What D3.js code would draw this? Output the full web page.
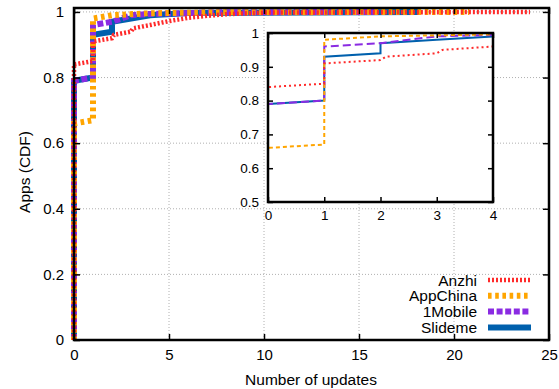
<!DOCTYPE html>
<html>
<head>
<meta charset="utf-8">
<script src="https://cdn.jsdelivr.net/npm/d3@7"></script>
<style>
  body { margin: 0; background: #fff; }
  svg { font-family: "Liberation Sans", Arial, sans-serif; }
  .tick text { fill: #000; }
</style>
</head>
<body>
<svg id="chart" width="559" height="389"></svg>
<script>
// CDF points [updates, fraction of apps]
const anzhi = [[0, 0], [0, 0.84], [1, 0.85], [1, 0.91], [2, 0.92], [2.1, 0.93], [3, 0.94], [3.1, 0.95],
  [4, 0.96], [5, 0.972], [6, 0.982], [7, 0.988], [8, 0.993], [10, 0.998], [24, 1]]
const appChina = [[0, 0], [0, 0.66], [1, 0.67], [1, 0.98], [2, 0.99], [4, 0.996], [8, 0.999], [20.8, 1]]
const oneMobile = [[0, 0], [0, 0.79], [1, 0.80], [1, 0.96], [2, 0.97], [3, 0.99], [4, 0.994], [8, 0.999], [16, 1]]
const slideme = [[0, 0], [0, 0.79], [1, 0.80], [1, 0.93], [2, 0.94], [2, 0.97], [3, 0.98], [4, 0.99],
  [6, 0.997], [18.2, 1]]

const seriesNames = ['Anzhi', 'AppChina', '1Mobile', 'Slideme']
const seriesData = [anzhi, appChina, oneMobile, slideme]

const xTicks = [0, 5, 10, 15, 20, 25]
const yTicks = [0, 0.2, 0.4, 0.6, 0.8, 1]
const insetXTicks = [0, 1, 2, 3, 4]
const insetYTicks = [0.5, 0.6, 0.7, 0.8, 0.9, 1]

const styles = {
  Anzhi:    { color: '#ff2a2a', w: 4.5, dash: '2,2',     iw: 2, idash: '2,3' },
  AppChina: { color: '#ffa500', w: 6,   dash: '3.6,3.6', iw: 2, idash: '4,3' },
  '1Mobile':{ color: '#8a2be2', w: 6,   dash: '6,2.6',   iw: 2, idash: '8,4' },
  Slideme:  { color: '#0060ad', w: 6,   dash: null,      iw: 2, idash: null }
}

const svg = d3.select('#chart')

// main plot
const x = d3.scaleLinear().domain([0, 25]).range([74, 549])
const y = d3.scaleLinear().domain([0, 1.012]).range([340, 8])

const grid = svg.append('g')
grid.selectAll('line.gx').data(xTicks.slice(1, -1)).enter().append('line')
  .attr('x1', d => x(d)).attr('x2', d => x(d)).attr('y1', y(0)).attr('y2', y(1.012))
grid.selectAll('line.gy').data(yTicks.slice(1)).enter().append('line')
  .attr('x1', x(0)).attr('x2', x(25)).attr('y1', d => y(d)).attr('y2', d => y(d))
grid.selectAll('line').attr('stroke', '#b0b0b0').attr('stroke-width', 1).attr('stroke-dasharray', '1,2')

const line = d3.line().x(d => x(d[0])).y(d => y(d[1]))

// drawn back to front so the dashed ones show on top of the solid one
const order = [3, 2, 1, 0]
order.forEach(i => {
  const s = styles[seriesNames[i]]
  svg.append('path').datum(seriesData[i])
    .attr('d', line)
    .attr('fill', 'none')
    .attr('stroke', s.color)
    .attr('stroke-width', s.w)
    .attr('stroke-dasharray', s.dash)
})

const axisFont = g => g.selectAll('text').attr('font-size', 15)

svg.append('g').attr('transform', `translate(0,${y(0)})`)
  .call(d3.axisBottom(x).tickValues(xTicks).tickSize(-6).tickPadding(9).tickFormat(d3.format('d')))
  .call(g => g.select('.domain').remove())
  .call(axisFont)
svg.append('g').attr('transform', `translate(${x(0)},0)`)
  .call(d3.axisLeft(y).tickValues(yTicks).tickSize(-6).tickPadding(10).tickFormat(d => d))
  .call(g => g.select('.domain').remove())
  .call(axisFont)
svg.append('g').attr('transform', `translate(0,${y(1.012)})`)
  .call(d3.axisTop(x).tickValues(xTicks).tickSize(-6).tickFormat(''))
  .call(g => g.select('.domain').remove())
svg.append('g').attr('transform', `translate(${x(25)},0)`)
  .call(d3.axisRight(y).tickValues(yTicks).tickSize(-6).tickFormat(''))
  .call(g => g.select('.domain').remove())
svg.selectAll('.tick line').attr('stroke', '#000').attr('stroke-width', 1.5)

svg.append('rect')
  .attr('x', x(0)).attr('y', y(1.012))
  .attr('width', x(25) - x(0)).attr('height', y(0) - y(1.012))
  .attr('fill', 'none').attr('stroke', '#000').attr('stroke-width', 2.5)

svg.append('text').attr('x', 311).attr('y', 385).attr('text-anchor', 'middle')
  .attr('font-size', 15.5).text('Number of updates')
svg.append('text').attr('transform', 'translate(30,172) rotate(-90)').attr('text-anchor', 'middle')
  .attr('font-size', 15.5).text('Apps (CDF)')

// legend
const legend = svg.append('g')
seriesNames.forEach((name, i) => {
  const s = styles[name]
  const ly = 280 + i * 15.8
  legend.append('text').attr('x', 477).attr('y', ly + 5.5).attr('text-anchor', 'end')
    .attr('font-size', 15.5).text(name)
  legend.append('line').attr('x1', 488).attr('x2', 531).attr('y1', ly).attr('y2', ly)
    .attr('stroke', s.color).attr('stroke-width', s.w).attr('stroke-dasharray', s.dash)
})

// inset zoom on 0..4 updates
const ix = d3.scaleLinear().domain([0, 4]).range([268, 493])
const iy = d3.scaleLinear().domain([0.5, 1]).range([202, 33])

const inset = svg.append('g')
inset.append('rect').attr('x', ix(0)).attr('y', iy(1))
  .attr('width', ix(4) - ix(0)).attr('height', iy(0.5) - iy(1)).attr('fill', '#fff')

svg.append('clipPath').attr('id', 'insetClip').append('rect')
  .attr('x', ix(0)).attr('y', iy(1)).attr('width', ix(4) - ix(0)).attr('height', iy(0.5) - iy(1))

const iline = d3.line().x(d => ix(d[0])).y(d => iy(d[1]))
const insetLines = inset.append('g').attr('clip-path', 'url(#insetClip)')
order.forEach(i => {
  const s = styles[seriesNames[i]]
  insetLines.append('path').datum(seriesData[i])
    .attr('d', iline)
    .attr('fill', 'none')
    .attr('stroke', s.color)
    .attr('stroke-width', s.iw)
    .attr('stroke-dasharray', s.idash)
})

const insetFont = g => g.selectAll('text').attr('font-size', 13.5)
inset.append('g').attr('transform', `translate(0,${iy(0.5)})`)
  .call(d3.axisBottom(ix).tickValues(insetXTicks).tickSize(-5).tickPadding(8).tickFormat(d3.format('d')))
  .call(g => g.select('.domain').remove())
  .call(insetFont)
inset.append('g').attr('transform', `translate(${ix(0)},0)`)
  .call(d3.axisLeft(iy).tickValues(insetYTicks).tickSize(-5).tickPadding(9).tickFormat(d => d))
  .call(g => g.select('.domain').remove())
  .call(insetFont)
inset.append('g').attr('transform', `translate(0,${iy(1)})`)
  .call(d3.axisTop(ix).tickValues(insetXTicks).tickSize(-5).tickFormat(''))
  .call(g => g.select('.domain').remove())
inset.append('g').attr('transform', `translate(${ix(4)},0)`)
  .call(d3.axisRight(iy).tickValues(insetYTicks).tickSize(-5).tickFormat(''))
  .call(g => g.select('.domain').remove())
inset.selectAll('.tick line').attr('stroke', '#000').attr('stroke-width', 1.5)

inset.append('rect').attr('x', ix(0)).attr('y', iy(1))
  .attr('width', ix(4) - ix(0)).attr('height', iy(0.5) - iy(1))
  .attr('fill', 'none').attr('stroke', '#000').attr('stroke-width', 2.5)
</script>
</body>
</html>
